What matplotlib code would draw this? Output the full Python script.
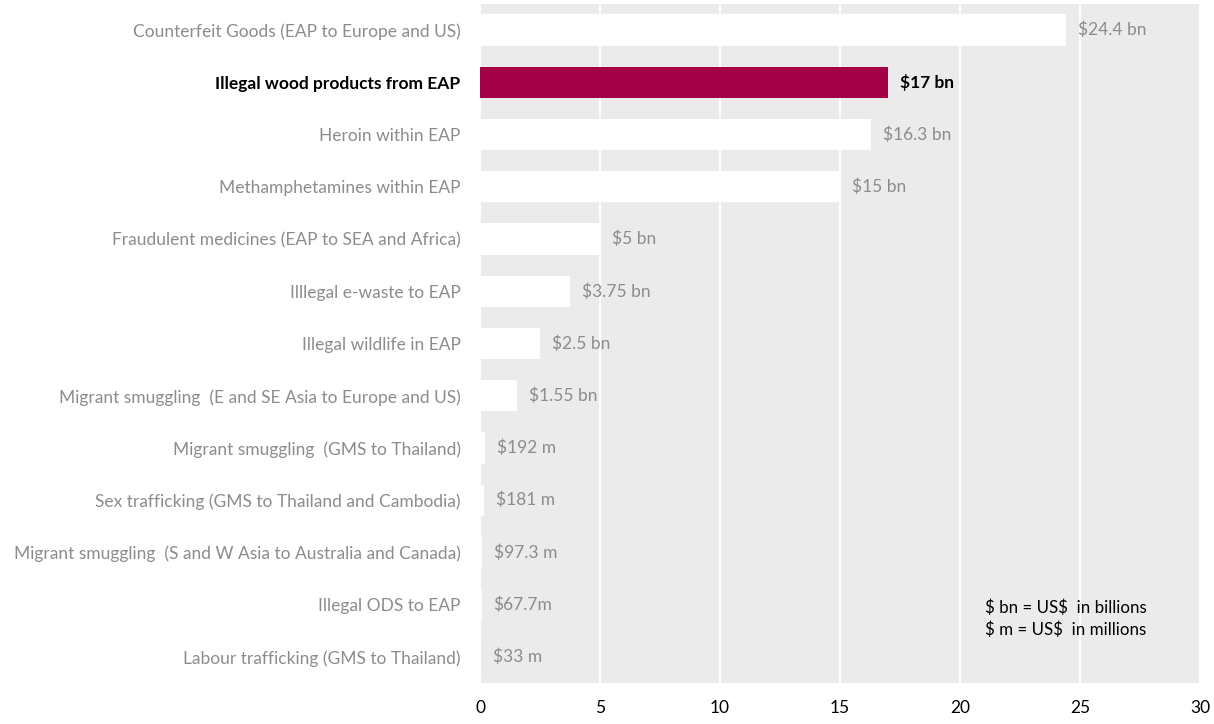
import matplotlib
matplotlib.use("Agg")
import matplotlib.pyplot as plt

plt.rcParams['text.parse_math'] = False
plt.rcParams['font.family'] = ['Lato', 'DejaVu Sans']

categories = [
    "Counterfeit Goods (EAP to Europe and US)",
    "Illegal wood products from EAP",
    "Heroin within EAP",
    "Methamphetamines within EAP",
    "Fraudulent medicines (EAP to SEA and Africa)",
    "Illlegal e-waste to EAP",
    "Illegal wildlife in EAP",
    "Migrant smuggling  (E and SE Asia to Europe and US)",
    "Migrant smuggling  (GMS to Thailand)",
    "Sex trafficking (GMS to Thailand and Cambodia)",
    "Migrant smuggling  (S and W Asia to Australia and Canada)",
    "Illegal ODS to EAP",
    "Labour trafficking (GMS to Thailand)",
]
values_bn = [24.4, 17, 16.3, 15, 5, 3.75, 2.5, 1.55, 0.192, 0.181, 0.0973, 0.0677, 0.033]
value_labels = ["$24.4 bn", "$17 bn", "$16.3 bn", "$15 bn", "$5 bn", "$3.75 bn", "$2.5 bn",
                "$1.55 bn", "$192 m", "$181 m", "$97.3 m", "$67.7m", "$33 m"]
highlight = "Illegal wood products from EAP"
x_ticks = [0, 5, 10, 15, 20, 25, 30]

fig = plt.figure(figsize=(12.14, 7.24), dpi=100)
ax = fig.add_axes([480/1214, 1-683/724, 720/1214, 679/724])
ax.set_facecolor('#ebebeb')

n = len(categories)
ypos = list(range(n))
colors = ['#a30046' if c == highlight else 'white' for c in categories]
ax.barh(ypos, values_bn, height=0.6, color=colors, zorder=3)

fs = 12.5
ax.set_xlim(0, 30)
ax.set_ylim(n - 0.5, -0.5)
ax.set_xticks(x_ticks)
ax.set_xticklabels([str(t) for t in x_ticks], fontsize=12.5, color='black')
ax.grid(axis='x', color='white', linewidth=1.3, zorder=1)
ax.set_axisbelow(True)
ax.set_yticks(ypos)
ax.set_yticklabels(categories, fontsize=fs)
for lbl, c in zip(ax.get_yticklabels(), categories):
    if c == highlight:
        lbl.set_color('black')
        lbl.set_fontweight('bold')
    else:
        lbl.set_color('#8c8c8c')
ax.tick_params(axis='both', length=0)
ax.tick_params(axis='y', pad=14)
ax.tick_params(axis='x', pad=12)
for s in ax.spines.values():
    s.set_visible(False)

for y, v, lab, c in zip(ypos, values_bn, value_labels, categories):
    if c == highlight:
        ax.text(v + 0.5, y, lab, va='center', ha='left', fontsize=fs,
                color='black', fontweight='bold', zorder=4)
    else:
        ax.text(v + 0.5, y, lab, va='center', ha='left', fontsize=fs,
                color='#8c8c8c', zorder=4)

ax.text(21.05, 11.27, "$ bn = US$  in billions\n$ m = US$  in millions",
        va='center', ha='left', fontsize=12.2, color='black', linespacing=1.45, zorder=4)

fig.savefig('out.png', dpi=100)
